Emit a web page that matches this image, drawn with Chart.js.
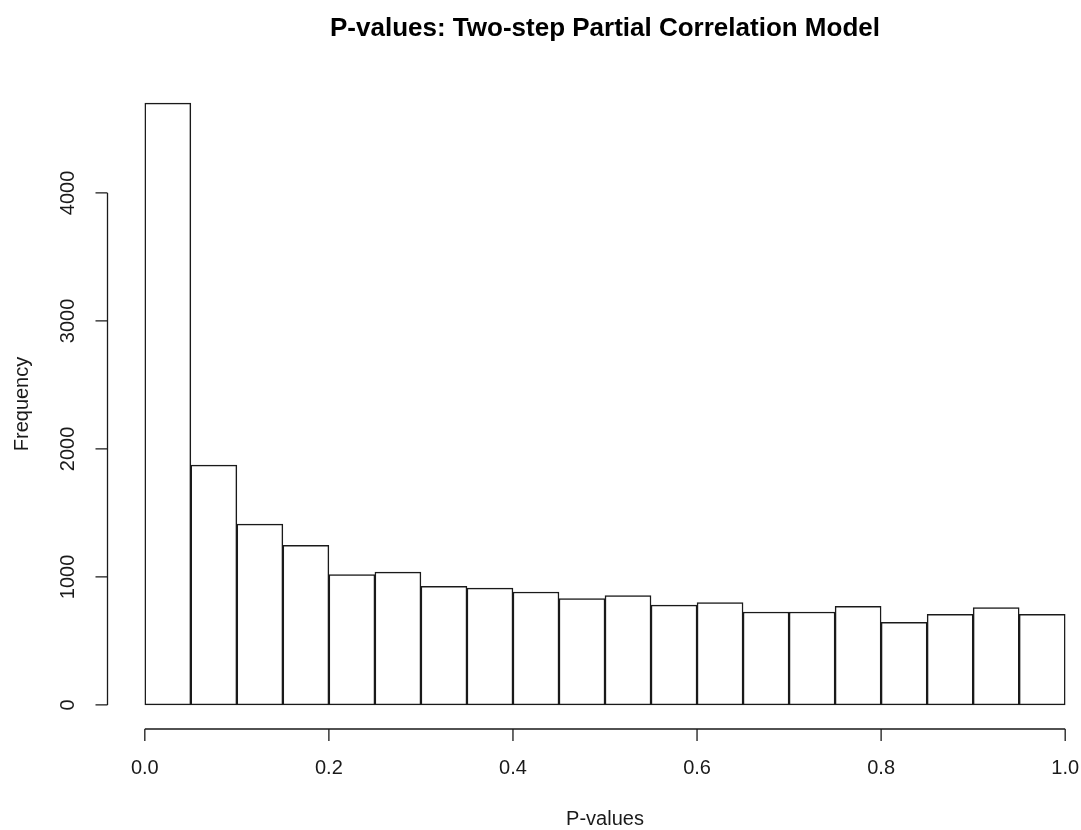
<!DOCTYPE html>
<html>
<head>
<meta charset="utf-8">
<script src="https://cdn.jsdelivr.net/npm/chart.js@4"></script>
<style>
    html, body { margin: 0; padding: 0; background: #ffffff; }
    #wrap { width: 1081px; height: 830px; }
</style>
</head>
<body>
<div id="wrap"><canvas id="hist_canvas" width="1081" height="830"></canvas></div>
<script>
// histogram bins (lower edge) and counts
const bin_starts = [0.00, 0.05, 0.10, 0.15, 0.20, 0.25, 0.30, 0.35, 0.40, 0.45,
                    0.50, 0.55, 0.60, 0.65, 0.70, 0.75, 0.80, 0.85, 0.90, 0.95];
const bin_width = 0.05;
const counts = [4702, 1874, 1413, 1247, 1018, 1038, 927, 913, 882, 830,
                854, 780, 799, 726, 726, 770, 645, 708, 760, 708];

const x_ticks = [0.0, 0.2, 0.4, 0.6, 0.8, 1.0];
const y_ticks = [0, 1000, 2000, 3000, 4000];

const title_text = "P-values: Two-step Partial Correlation Model";
const x_label = "P-values";
const y_label = "Frequency";

const font_family = "'Liberation Sans', Arial, sans-serif";
const ink = "#1a1a1a";

// R style axes: detached lines, outward ticks, rotated y labels
const r_axes_plugin = {
    id: 'r_axes',
    afterDraw(chart) {
        const ctx = chart.ctx;
        const x = chart.scales.x;
        const y = chart.scales.y;
        const area = chart.chartArea;

        ctx.save();
        ctx.strokeStyle = ink;
        ctx.fillStyle = ink;
        ctx.lineWidth = 1.3;

        // x axis
        const x_axis_y = area.bottom;
        ctx.beginPath();
        ctx.moveTo(x.getPixelForValue(x_ticks[0]), x_axis_y);
        ctx.lineTo(x.getPixelForValue(x_ticks[x_ticks.length - 1]), x_axis_y);
        for (const t of x_ticks) {
            const px = x.getPixelForValue(t);
            ctx.moveTo(px, x_axis_y);
            ctx.lineTo(px, x_axis_y + 12);
        }
        ctx.stroke();

        ctx.font = "20px " + font_family;
        ctx.textAlign = "center";
        ctx.textBaseline = "middle";
        for (const t of x_ticks) {
            ctx.fillText(t.toFixed(1), x.getPixelForValue(t), 768);
        }
        ctx.fillText(x_label, x.getPixelForValue(0.5), 819);

        // y axis
        const y_axis_x = area.left - 0.5;
        ctx.beginPath();
        ctx.moveTo(y_axis_x, y.getPixelForValue(y_ticks[0]));
        ctx.lineTo(y_axis_x, y.getPixelForValue(y_ticks[y_ticks.length - 1]));
        for (const t of y_ticks) {
            const py = y.getPixelForValue(t);
            ctx.moveTo(y_axis_x, py);
            ctx.lineTo(y_axis_x - 12, py);
        }
        ctx.stroke();

        for (const t of y_ticks) {
            ctx.save();
            ctx.translate(68, y.getPixelForValue(t));
            ctx.rotate(-Math.PI / 2);
            ctx.fillText(String(t), 0, 0);
            ctx.restore();
        }

        ctx.save();
        ctx.translate(22, (area.top + area.bottom) / 2);
        ctx.rotate(-Math.PI / 2);
        ctx.fillText(y_label, 0, 0);
        ctx.restore();

        // main title
        ctx.fillStyle = "#000000";
        ctx.font = "bold 26px " + font_family;
        ctx.fillText(title_text, x.getPixelForValue(0.5), 29);

        ctx.restore();
    }
};

const bar_data = bin_starts.map((b, i) => ({x: b + bin_width / 2, y: counts[i]}));

let config = {
    type: 'bar',
    data: {
        datasets: [{
            label: "Frequency",
            data: bar_data,
            backgroundColor: "#ffffff",
            borderColor: ink,
            borderWidth: 1.5,
            borderSkipped: false,
            barPercentage: 1.0,
            categoryPercentage: 1.0
        }]
    },
    options: {
        responsive: false,
        animation: false,
        layout: {
            padding: {left: 108, right: 2, top: 79, bottom: 101}
        },
        plugins: {
            legend: {display: false},
            title: {display: false},
            tooltip: {enabled: false}
        },
        scales: {
            x: {
                type: 'linear',
                min: -0.04,
                max: 1.015,
                offset: false,
                display: false
            },
            y: {
                min: -188,
                max: 4890,
                display: false
            }
        }
    },
    plugins: [r_axes_plugin]
};

const hist_plot = new Chart(document.getElementById('hist_canvas'), config);
</script>
</body>
</html>
